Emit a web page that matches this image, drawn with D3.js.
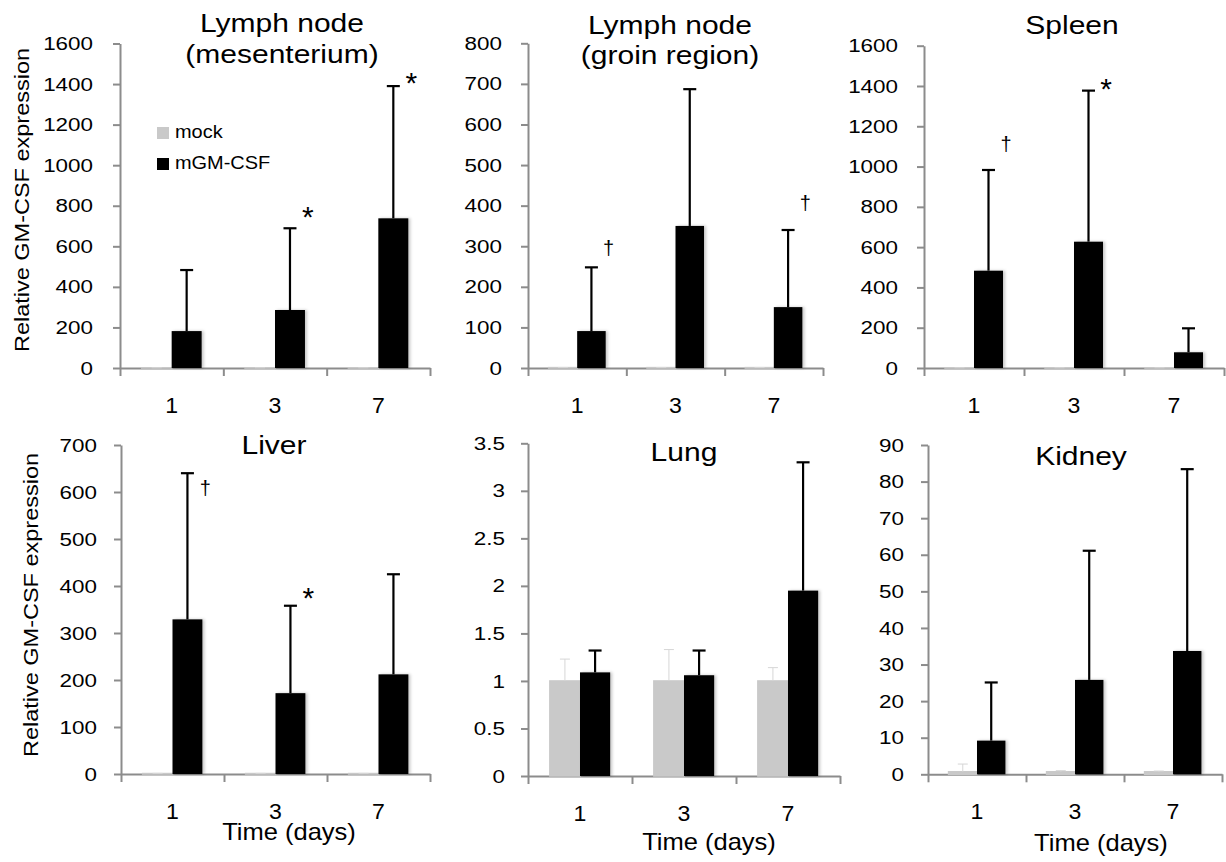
<!DOCTYPE html>
<html>
<head>
<meta charset="utf-8">
<script src="https://cdn.jsdelivr.net/npm/d3@7"></script>
<style>
  body { margin: 0; background: #fff; }
  svg text { font-family: "Liberation Sans", Arial, sans-serif; fill: #000; }
</style>
</head>
<body>
<svg id="chart" width="1226" height="862"></svg>
<script>
// values
const days = ["1", "3", "7"];
const seriesNames = ["mock", "mGM-CSF"];
const titles = [["Lymph node", "(mesenterium)"], ["Lymph node", "(groin region)"], ["Spleen"], ["Liver"], ["Lung"], ["Kidney"]];
const yMax = [1600, 800, 1600, 700, 3.5, 90];
const yStep = [200, 100, 200, 100, 0.5, 10];

const mockMean = [[1, 1, 1], [1, 1, 1], [1, 1, 1], [1, 1, 1], [1, 1, 1], [0.7, 0.7, 0.7]];
const mockSD = [[0.3, 0.3, 0.3], [0.3, 0.3, 0.3], [0.3, 0.3, 0.3], [0.3, 0.3, 0.3], [0.23, 0.33, 0.14], [2.1, 0.3, 0.2]];
const gmMean = [[182, 286, 738], [91, 350, 150], [483, 627, 78], [329, 172, 212], [1.09, 1.06, 1.95], [9.2, 25.8, 33.7]];
const gmSD = [[301, 403, 652], [157, 337, 190], [500, 750, 119], [311, 186, 213], [0.23, 0.26, 1.35], [15.9, 35.3, 49.7]];

// significance marks: symbol and the value height it sits at
const marks = [
  [{day: "3", sym: "*", at: 779}, {day: "7", sym: "*", at: 1440}],
  [{day: "1", sym: "\u2020", at: 293}, {day: "7", sym: "\u2020", at: 404}],
  [{day: "1", sym: "\u2020", at: 1107}, {day: "3", sym: "*", at: 1420}],
  [{day: "1", sym: "\u2020", at: 606}, {day: "3", sym: "*", at: 391}],
  [],
  []
];

const yTitle = "Relative GM-CSF expression";
const xTitle = "Time (days)";

// panel frames (pixels)
const frames = [
  {x0: 120, x1: 430, y0: 368, y1: 43.5, lab: 27, tx: 282, ty: [32, 63], yt: {x: 29, y: 200}},
  {x0: 528, x1: 823, y0: 368, y1: 43.3, lab: 26, tx: 670, ty: [34, 64]},
  {x0: 924, x1: 1224, y0: 368, y1: 45.7, lab: 26, tx: 1072, ty: [34]},
  {x0: 121, x1: 430, y0: 774, y1: 445, lab: 24, tx: 274, ty: [454], xt: {x: 289, y: 840}, yt: {x: 37.5, y: 605}},
  {x0: 528, x1: 840, y0: 776, y1: 443.3, lab: 23, tx: 684, ty: [461], xt: {x: 709, y: 850}},
  {x0: 928, x1: 1222, y0: 774.3, y1: 445, lab: 24, tx: 1081, ty: [465], xt: {x: 1101, y: 851}}
];

const axisGray = "#8c8c8c";
const mockGray = "#c9c9c9";

const svg = d3.select("#chart");
svg.append("defs").append("filter")
  .attr("id", "shadow").attr("x", "-20%").attr("width", "150%")
  .append("feDropShadow")
  .attr("dx", 2).attr("dy", 0).attr("stdDeviation", 1.5)
  .attr("flood-color", "#000").attr("flood-opacity", 0.22);

// widen glyphs horizontally, keeping the anchor point
function stretch(sel, sx) {
  sel.each(function() {
    const t = d3.select(this);
    const x = +t.attr("x") || 0;
    t.attr("x", x / sx).attr("transform", "scale(" + sx + ",1)");
  });
}

frames.forEach(function(f, i) {
  const g = svg.append("g");

  const y = d3.scaleLinear().domain([0, yMax[i]]).range([f.y0, f.y1]);
  const x = d3.scaleBand().domain(days).range([f.x0, f.x1]);
  const bw = x.bandwidth();
  const inner = d3.scaleBand().domain(seriesNames).range([0.21 * bw, 0.79 * bw]);
  const edges = d3.scaleLinear().domain([0, days.length]).range([f.x0, f.x1]);

  // y axis
  const ya = g.append("g")
    .attr("transform", "translate(" + f.x0 + ",0)")
    .call(d3.axisLeft(y)
      .tickValues(d3.range(0, yMax[i] + yStep[i] / 2, yStep[i]))
      .tickFormat(function(d) { return String(+d.toFixed(2)); })
      .tickSize(7).tickSizeOuter(0).tickPadding(f.lab - 7));
  ya.selectAll("text").style("font-size", "19px");
  stretch(ya.selectAll("text"), 1.18);

  // x axis: boundary ticks
  const xa = g.append("g")
    .attr("transform", "translate(0," + f.y0 + ")")
    .call(d3.axisBottom(edges).tickValues(d3.range(0, days.length + 1))
      .tickFormat("").tickSize(8).tickSizeOuter(0));

  [ya, xa].forEach(function(a) {
    a.select(".domain").attr("stroke", axisGray).attr("stroke-width", 2);
    a.selectAll(".tick line").attr("stroke", axisGray).attr("stroke-width", 2);
  });

  // category labels
  const xl = g.append("g")
    .attr("transform", "translate(0," + f.y0 + ")")
    .call(d3.axisBottom(x).tickSize(0).tickPadding(29.5));
  xl.select(".domain").remove();
  xl.selectAll("text").style("font-size", "22px");
  stretch(xl.selectAll("text"), 1.05);

  // bars
  const rows = days.map(function(d, j) {
    return [
      {day: d, s: "mock", v: mockMean[i][j], e: mockSD[i][j]},
      {day: d, s: "mGM-CSF", v: gmMean[i][j], e: gmSD[i][j]}
    ];
  });
  const grp = g.selectAll(".day").data(rows).enter().append("g")
    .attr("transform", function(r) { return "translate(" + x(r[0].day) + ",0)"; });

  grp.selectAll("rect").data(function(r) { return r; }).enter().append("rect")
    .attr("x", function(d) { return inner(d.s); })
    .attr("width", inner.bandwidth())
    .attr("y", function(d) { return y(d.v); })
    .attr("height", function(d) { return y(0) - y(d.v); })
    .attr("fill", function(d) { return d.s === "mock" ? mockGray : "#000"; })
    .attr("stroke", function(d) { return d.s === "mock" ? mockGray : "none"; })
    .attr("stroke-width", 1.5)
    .attr("filter", function(d) { return d.s === "mock" ? null : "url(#shadow)"; });

  // error bars (upper only)
  const eb = grp.selectAll(".err").data(function(r) { return r; }).enter().append("g");
  eb.append("line")
    .attr("x1", function(d) { return inner(d.s) + inner.bandwidth() / 2; })
    .attr("x2", function(d) { return inner(d.s) + inner.bandwidth() / 2; })
    .attr("y1", function(d) { return y(d.v); })
    .attr("y2", function(d) { return y(d.v + d.e); });
  eb.append("line")
    .attr("x1", function(d) { return inner(d.s) + inner.bandwidth() / 2 - (d.s === "mock" ? 5 : 6.5); })
    .attr("x2", function(d) { return inner(d.s) + inner.bandwidth() / 2 + (d.s === "mock" ? 5 : 6.5); })
    .attr("y1", function(d) { return y(d.v + d.e); })
    .attr("y2", function(d) { return y(d.v + d.e); });
  eb.selectAll("line")
    .attr("stroke", function(d) { return d.s === "mock" ? "#d6d6d6" : "#000"; })
    .attr("stroke-width", function(d) { return d.s === "mock" ? 1 : 2.2; });

  // significance marks
  marks[i].forEach(function(m) {
    const xr = x(m.day) + inner("mGM-CSF") + inner.bandwidth() + 3;
    g.append("text")
      .attr("x", xr).attr("y", y(m.at))
      .attr("text-anchor", "middle")
      .attr("dy", m.sym === "*" ? "0.58em" : "0.3em")
      .style("font-size", m.sym === "*" ? "30px" : "20px")
      .text(m.sym);
  });

  // panel title
  titles[i].forEach(function(line, k) {
    const t = g.append("text")
      .attr("x", f.tx).attr("y", f.ty[k])
      .attr("text-anchor", "middle")
      .style("font-size", "25px")
      .text(line);
    stretch(t, 1.2);
  });

  if (f.xt) {
    const t = g.append("text")
      .attr("x", f.xt.x).attr("y", f.xt.y)
      .attr("text-anchor", "middle")
      .style("font-size", "23px")
      .text(xTitle);
    stretch(t, 1.11);
  }
  if (f.yt) {
    g.append("text")
      .attr("transform", "translate(" + f.yt.x + "," + f.yt.y + ") rotate(-90)")
      .attr("text-anchor", "middle")
      .attr("textLength", 304)
      .attr("lengthAdjust", "spacingAndGlyphs")
      .style("font-size", "20px")
      .text(yTitle);
  }
});

// legend (first panel)
const leg = svg.append("g");
seriesNames.forEach(function(s, k) {
  leg.append("rect")
    .attr("x", 157).attr("y", 127 + k * 31)
    .attr("width", 12).attr("height", 12)
    .attr("fill", s === "mock" ? mockGray : "#000");
  const t = leg.append("text")
    .attr("x", 175).attr("y", 138 + k * 31)
    .style("font-size", "19px")
    .text(s);
  stretch(t, 1.05);
});
</script>
</body>
</html>
